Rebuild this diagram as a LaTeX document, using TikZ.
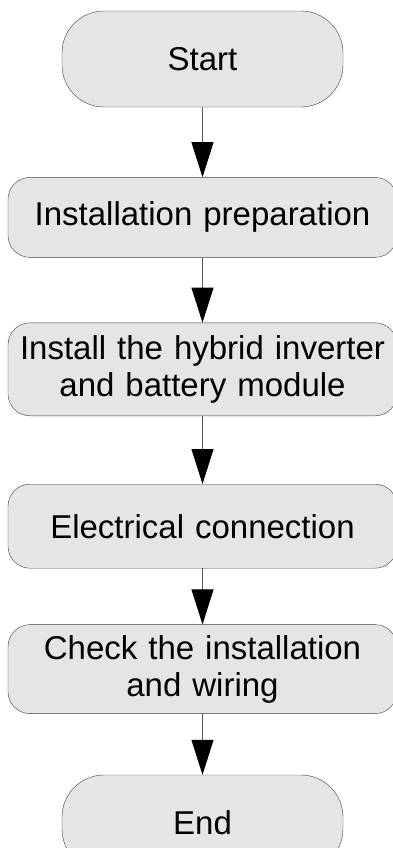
\documentclass[tikz,border=0pt]{standalone}
\usepackage{fontspec}
\setmainfont{Liberation Sans}
\usetikzlibrary{shapes.geometric, arrows.meta, positioning}
\tikzset{
    block_gray/.style={rectangle, draw=black!75, rounded corners=22pt, fill=black!10, text width=380pt, align=center, minimum width=389pt, inner sep=0pt, font=\fontsize{33}{37}\selectfont},
    block_term/.style={block_gray, rounded corners=42pt, text width=270pt, minimum width=281pt, minimum height=96pt},
    arrow/.style={-{Triangle[length=35pt, width=22pt, color=black]}, draw=black!65, line width=1pt}
}
\begin{document}
\begin{tikzpicture}[x=1pt, y=1pt]
    \useasboundingbox (0,0) rectangle (393,-848);
    % Steps
    \node (start) [block_term] at (202.5,-59) {Start};

    \node (prep) [block_gray, below=70pt of start, minimum height=80pt] {Installation preparation};

    \node (install) [block_gray, below=65pt of prep, minimum height=93pt] {Install the hybrid inverter\\and battery module};

    \node (elec) [block_gray, below=68pt of install, minimum height=84pt] {Electrical connection};

    \node (check) [block_gray, below=56pt of elec, minimum height=89pt] {Check the installation\\and wiring};

    \node (end) [block_term, below=61pt of check] {End};

    % Connections
    \draw [arrow] (start) -- (prep);
    \draw [arrow] (prep) -- (install);
    \draw [arrow] (install) -- (elec);
    \draw [arrow] (elec) -- (check);
    \draw [arrow] (check) -- (end);
\end{tikzpicture}
\end{document}
